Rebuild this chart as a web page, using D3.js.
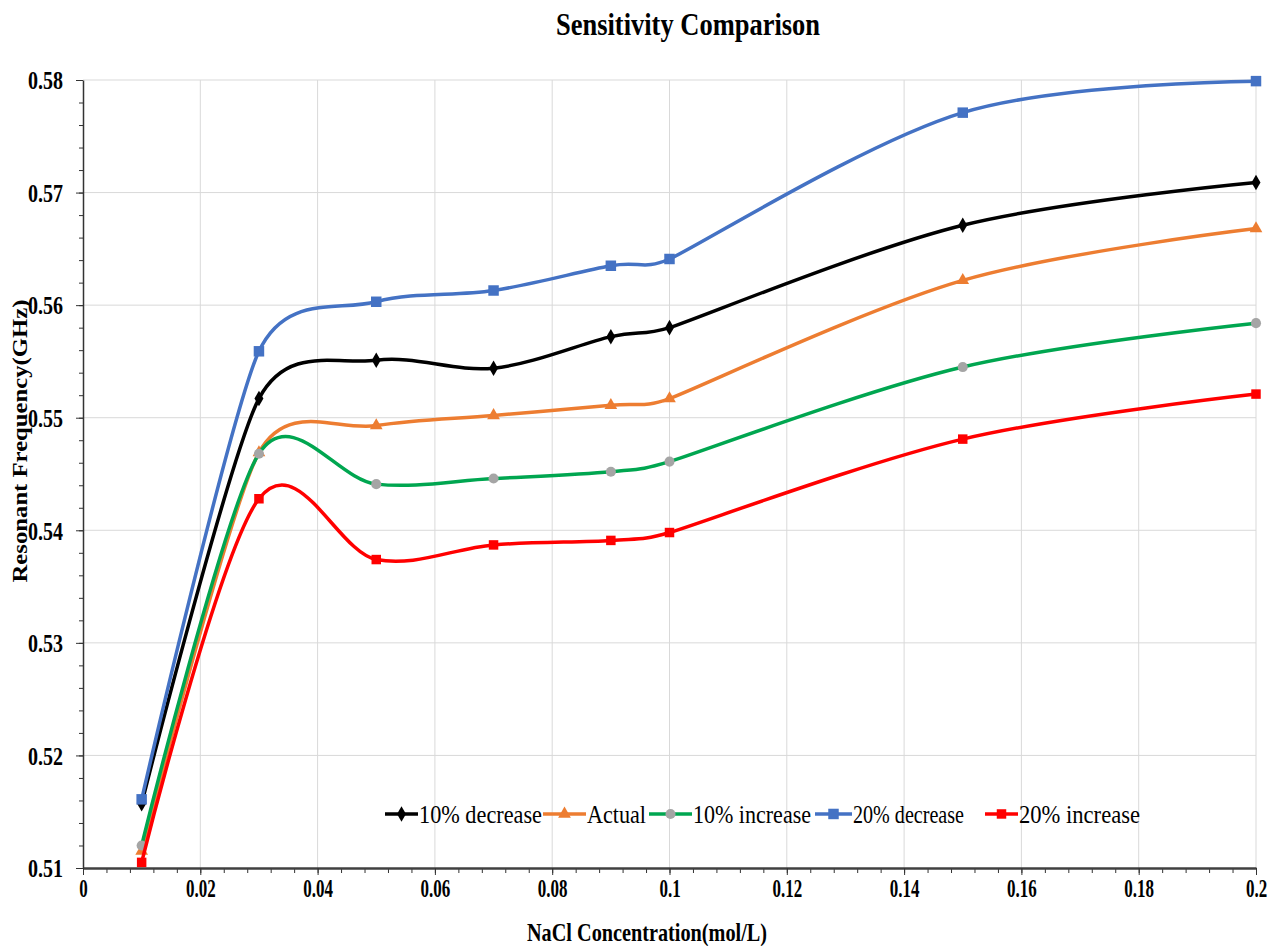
<!DOCTYPE html>
<html>
<head>
<meta charset="utf-8">
<script src="https://cdn.jsdelivr.net/npm/d3@7"></script>
<style>
  body { margin: 0; background: #fff; }
  svg text { font-family: "Liberation Serif", "DejaVu Serif", serif; }
</style>
</head>
<body>
<div id="chart"></div>
<script>
// NaCl concentrations (mol/L)
const concentrations = [0.01, 0.03, 0.05, 0.07, 0.09, 0.1, 0.15, 0.2];

// resonant frequency (GHz) for each case
const decrease10 = [0.5157, 0.5517, 0.5551, 0.5544, 0.5572, 0.5580, 0.5671, 0.5709];
const actual     = [0.5115, 0.5469, 0.5493, 0.5502, 0.5511, 0.5517, 0.5622, 0.5668];
const increase10 = [0.5120, 0.5468, 0.5441, 0.5446, 0.5452, 0.5461, 0.5545, 0.5584];
const decrease20 = [0.5161, 0.5559, 0.5603, 0.5613, 0.5635, 0.5641, 0.5771, 0.5799];
const increase20 = [0.5105, 0.5428, 0.5374, 0.5387, 0.5391, 0.5398, 0.5481, 0.5521];

const seriesNames = ["10% decrease", "Actual", "10% increase", "20% decrease", "20% increase"];
const xTicks = [0, 0.02, 0.04, 0.06, 0.08, 0.1, 0.12, 0.14, 0.16, 0.18, 0.2];
const xTickLabels = ["0", "0.02", "0.04", "0.06", "0.08", "0.1", "0.12", "0.14", "0.16", "0.18", "0.2"];
const yTicks = [0.51, 0.52, 0.53, 0.54, 0.55, 0.56, 0.57, 0.58];

let margin = {top: 80, right: 21, bottom: 78, left: 83};
let width = 1277 - margin.left - margin.right;
let height = 946 - margin.top - margin.bottom;
let serif = '"Liberation Serif", "DejaVu Serif", serif';

let series = [
  {name: seriesNames[0], values: decrease10, line: "#000000", fill: "#000000", shape: "diamond", size: 70},
  {name: seriesNames[1], values: actual,     line: "#ED7D31", fill: "#ED7D31", shape: "triangle", size: 70},
  {name: seriesNames[2], values: increase10, line: "#00A650", fill: "#A5A5A5", shape: "circle", size: 80},
  {name: seriesNames[3], values: decrease20, line: "#4472C4", fill: "#4472C4", shape: "square", size: 110},
  {name: seriesNames[4], values: increase20, line: "#FF0000", fill: "#FF0000", shape: "square", size: 90}
];

let shapes = {
  diamond: d3.symbolDiamond,
  triangle: d3.symbolTriangle,
  circle: d3.symbolCircle,
  square: d3.symbolSquare
};

// spreadsheet-style smoothing: Catmull-Rom tangents, shortened where a segment is short
function smoothPath(pts) {
  let dist = (a, b) => Math.hypot(b[0] - a[0], b[1] - a[1]);
  let n = pts.length;
  let tang = pts.map((p, i) => {
    let p0 = pts[Math.max(i - 1, 0)], p2 = pts[Math.min(i + 1, n - 1)];
    let d02 = dist(p0, p2);
    if (i == 0 || i == n - 1 || d02 == 0) return [0, 0];
    let len = Math.min(d02 / 6, dist(p0, p) / 2, dist(p, p2) / 2);
    return [(p2[0] - p0[0]) / d02 * len, (p2[1] - p0[1]) / d02 * len];
  });
  let path = d3.path();
  path.moveTo(pts[0][0], pts[0][1]);
  for (let i = 0; i < n - 1; i++) {
    let a = pts[i], b = pts[i + 1];
    path.bezierCurveTo(a[0] + tang[i][0], a[1] + tang[i][1],
                       b[0] - tang[i + 1][0], b[1] - tang[i + 1][1],
                       b[0], b[1]);
  }
  return path.toString();
}

let svg = d3.select("#chart")
  .append("svg")
    .attr("width", 1277)
    .attr("height", 946);

let g = svg.append("g")
    .attr("transform", "translate(" + margin.left + "," + margin.top + ")");

let x = d3.scaleLinear().domain([0, 0.2]).range([0, width]);
let y = d3.scaleLinear().domain([0.51, 0.58]).range([height, 0]);

// gridlines
g.append("g")
  .selectAll("line")
  .data(xTicks.slice(1))
  .enter().append("line")
    .attr("x1", d => x(d)).attr("x2", d => x(d))
    .attr("y1", 0).attr("y2", height)
    .attr("stroke", "#d9d9d9").attr("stroke-width", 1);

g.append("g")
  .selectAll("line")
  .data(yTicks.slice(1))
  .enter().append("line")
    .attr("x1", 0).attr("x2", width)
    .attr("y1", d => y(d)).attr("y2", d => y(d))
    .attr("stroke", "#d9d9d9").attr("stroke-width", 1);

// minor ticks
g.append("g")
  .attr("transform", "translate(0," + height + ")")
  .call(d3.axisBottom(x).tickValues(d3.range(0, 0.2001, 0.004)).tickSize(5).tickFormat("").tickSizeOuter(0))
  .call(a => a.select(".domain").remove())
  .selectAll("line").attr("stroke", "#333");

g.append("g")
  .call(d3.axisLeft(y).tickValues(d3.range(0.51, 0.5801, 0.002)).tickSize(4).tickFormat("").tickSizeOuter(0))
  .call(a => a.select(".domain").remove())
  .selectAll("line").attr("stroke", "#333");

// X axis
let xAxis = g.append("g")
  .attr("transform", "translate(0," + height + ")")
  .call(d3.axisBottom(x).tickValues(xTicks).tickFormat((d, i) => xTickLabels[i]).tickSize(7).tickSizeOuter(0));
xAxis.attr("font-family", serif);
xAxis.select(".domain").attr("stroke", "#404040").attr("stroke-width", 2.5);
xAxis.selectAll(".tick line").attr("stroke", "#333");
xAxis.selectAll("text")
  .attr("fill", "#000")
  .attr("y", 11)
  .style("font-family", serif)
  .style("font-size", "25px")
  .style("font-weight", "bold")
  .attr("transform", "scale(0.68,1)");

// Y axis
let yAxis = g.append("g")
  .call(d3.axisLeft(y).tickValues(yTicks).tickFormat(d3.format(".2f")).tickSize(7).tickSizeOuter(0));
yAxis.attr("font-family", serif);
yAxis.select(".domain").attr("stroke", "#333").attr("stroke-width", 1.5);
yAxis.selectAll(".tick line").attr("stroke", "#333");
yAxis.selectAll("text")
  .attr("fill", "#000")
  .attr("x", -20 / 0.8)
  .attr("dy", "0.35em")
  .attr("transform", "scale(0.8,1)")
  .style("font-family", serif)
  .style("font-size", "25px")
  .style("font-weight", "bold");

// lines
series.forEach(s => {
  let pts = concentrations.map((c, i) => [c, s.values[i]]);
  g.append("path")
    .datum(pts)
    .attr("fill", "none")
    .attr("stroke", s.line)
    .attr("stroke-width", 3.5)
    .attr("d", d => smoothPath(d.map(p => [x(p[0]), y(p[1])])));
  g.append("g")
    .selectAll("path")
    .data(pts)
    .enter().append("path")
      .attr("transform", d => "translate(" + x(d[0]) + "," + y(d[1]) + ")")
      .attr("d", d3.symbol().type(shapes[s.shape]).size(s.size))
      .attr("fill", s.fill);
});

// legend (page coordinates)
let legendStart = [385, 543, 649, 815, 985];
let legendTextStart = [418, 586, 692, 852, 1018];
let legendTextWidth = [123, 59, 118, 111, 121];
let legendY = margin.top + y(0.5148);

let legend = svg.selectAll(".legend")
  .data(series)
  .enter().append("g")
    .attr("class", "legend")
    .attr("transform", (d, i) => "translate(" + legendStart[i] + "," + legendY + ")");

legend.append("line")
  .attr("x1", 0).attr("x2", (d, i) => legendTextStart[i] - legendStart[i])
  .attr("stroke", d => d.line)
  .attr("stroke-width", 3.5);

legend.append("path")
  .attr("transform", (d, i) => "translate(" + ((legendTextStart[i] - legendStart[i]) / 2) + ",0)")
  .attr("d", d => d3.symbol().type(shapes[d.shape]).size(d.size)())
  .attr("fill", d => d.fill);

legend.append("text")
  .attr("x", (d, i) => legendTextStart[i] - legendStart[i] + 1)
  .attr("dy", "0.35em")
  .attr("textLength", (d, i) => legendTextWidth[i])
  .attr("lengthAdjust", "spacingAndGlyphs")
  .style("font-family", serif)
  .style("font-weight", "normal")
  .style("font-size", "25px")
  .text(d => d.name);

// titles
svg.append("text")
  .attr("x", 688)
  .attr("y", 35)
  .attr("text-anchor", "middle")
  .attr("textLength", 264)
  .attr("lengthAdjust", "spacingAndGlyphs")
  .style("font-family", serif)
  .style("font-size", "32px")
  .style("font-weight", "bold")
  .text("Sensitivity Comparison");

svg.append("text")
  .attr("x", 647)
  .attr("y", 941)
  .attr("text-anchor", "middle")
  .attr("textLength", 240)
  .attr("lengthAdjust", "spacingAndGlyphs")
  .style("font-family", serif)
  .style("font-size", "26px")
  .style("font-weight", "bold")
  .text("NaCl Concentration(mol/L)");

svg.append("text")
  .attr("transform", "translate(27,441) rotate(-90)")
  .attr("text-anchor", "middle")
  .attr("textLength", 283)
  .attr("lengthAdjust", "spacingAndGlyphs")
  .style("font-family", serif)
  .style("font-size", "22px")
  .style("font-weight", "bold")
  .text("Resonant Frequency(GHz)");
</script>
</body>
</html>
